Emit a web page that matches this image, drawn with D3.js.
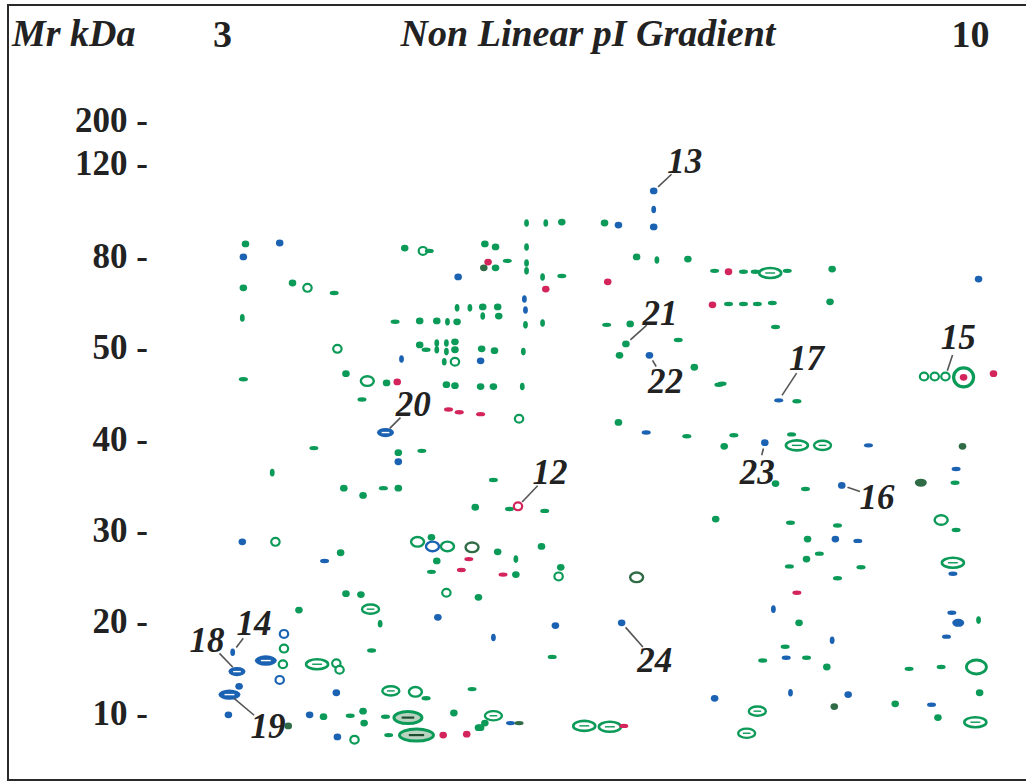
<!DOCTYPE html>
<html>
<head>
<meta charset="utf-8">
<script src="https://cdn.jsdelivr.net/npm/d3@7"></script>
<style>
  body { margin: 0; background: #fff; }
  svg { display: block; }
</style>
</head>
<body>
<svg id="chart"></svg>
<script>
// 2D gel map: spots as [pI, Mr (kDa), spot type]
const pIEnds = [3, 10];
const mrTicks = [200, 120, 80, 50, 40, 30, 20, 10];

const greenSpots = [
  [3.22,85.2,"dot"],[4.71,83.4,"dot"],[4.88,82.2,"ring"],[4.94,82.2,"dash"],
  [3.20,69.5,"dot"],[3.66,71.1,"dot"],[3.80,69.5,"ring"],[4.05,67.8,"dash"],
  [3.19,59.6,"vdash"],[5.20,62.9,"vdash"],[4.62,58.3,"dash"],[4.85,58.6,"dot"],[5.01,58.6,"dot"],[5.11,58.3,"vdash"],[5.20,58.3,"dot"],
  [4.08,49.8,"ring"],[4.85,50.7,"dot"],[4.91,49.7,"dash"],[5.01,51.3,"vdash"],[5.01,49.7,"vdash"],[5.10,51.3,"vdash"],[5.10,49.5,"vdash"],
  [5.18,51.7,"dot"],[5.18,49.7,"dot"],[5.08,48.4,"vdash"],[5.18,48.4,"ring"],
  [3.20,46.5,"dash"],[4.16,47.1,"dot"],[4.36,46.3,"ringw"],[4.54,46.1,"dot"],[5.10,45.9,"dot"],[5.18,45.8,"dot"],[4.31,44.3,"dash"],
  [5.85,94.2,"vdash"],[6.03,94.2,"vdash"],[6.18,94.6,"dot"],[6.58,94.2,"dot"],
  [5.46,85.2,"dot"],[5.56,83.9,"dot"],[5.85,83.9,"vdash"],[5.56,76.1,"dot"],[5.67,78.4,"dash"],[5.85,77.7,"vdash"],[5.85,75.1,"vdash"],
  [6.00,73.1,"vdash"],[6.18,73.4,"dash"],
  [6.88,79.7,"dot"],[7.07,78.7,"vdash"],[7.36,79.0,"dot"],[7.61,75.1,"dash"],
  [5.32,62.9,"vdash"],[5.44,63.2,"dot"],[5.58,63.2,"dot"],[5.44,60.2,"vdash"],[5.59,60.2,"dot"],[5.84,57.3,"vdash"],[6.00,57.9,"vdash"],
  [6.60,57.3,"dash"],[6.82,57.6,"dot"],
  [6.78,51.0,"dot"],[7.27,52.3,"dash"],[6.72,49.1,"dot"],[7.42,47.8,"dot"],
  [5.43,49.8,"dot"],[5.55,49.6,"dot"],[5.82,49.5,"vdash"],[5.42,45.7,"dot"],[5.54,45.7,"dot"],[5.81,45.7,"vdash"],
  [5.78,42.2,"ring"],[6.71,41.8,"dot"],[7.65,45.9,"dash"],
  [7.88,74.8,"dash"],[7.99,74.8,"dash"],[8.13,74.4,"wide"],[8.29,75.1,"dash"],[8.71,75.7,"dot"],
  [7.74,64.2,"dash"],[7.88,64.2,"dash"],[8.01,64.2,"dash"],[8.15,64.5,"dash"],[8.69,64.9,"dot"],[8.18,56.6,"dash"],
  [8.38,44.1,"dash"],[7.68,46.0,"dash"],
  [9.57,46.8,"ring"],[9.67,46.8,"ring"],[9.77,46.8,"ring"],[9.94,46.7,"big"],
  [7.79,40.4,"dash"],[7.70,39.2,"dot"],[8.33,40.5,"dash"],[8.38,39.3,"wide"],[8.62,39.3,"oval"],[7.35,40.3,"dash"],
  [9.86,35.2,"dash"],[8.18,35.1,"dot"],[8.46,34.5,"dash"],
  [7.62,31.2,"dot"],[8.32,30.8,"dash"],[8.76,30.5,"dash"],[9.73,31.1,"ringw"],[9.87,30.0,"dash"],
  [8.48,29.0,"dot"],[8.59,27.4,"dash"],[8.47,26.8,"dot"],[8.31,26.0,"dash"],[8.98,25.9,"dash"],[9.84,26.4,"wide"],[8.76,24.7,"dash"],
  [10.08,20.1,"vdash"],[8.40,19.8,"dot"],[8.27,17.2,"dash"],[8.06,15.7,"dash"],[8.47,16.0,"dash"],[8.66,15.0,"dot"],
  [8.01,10.2,"oval"],[7.91,7.8,"oval"],
  [9.43,14.8,"dash"],[9.73,15.0,"dash"],[10.06,15.0,"bigoval"],[10.09,12.2,"dot"],[9.30,11.0,"dot"],[9.70,9.5,"dot"],[10.05,9.0,"wide"],
  [4.65,38.5,"dot"],[3.86,39.0,"dash"],[4.87,38.7,"dash"],[3.47,36.3,"vdash"],[4.14,34.6,"dot"],[4.32,33.8,"dot"],[4.51,34.6,"dash"],[4.65,34.6,"dot"],
  [3.50,28.7,"ring"],[4.83,28.7,"ringw"],[4.96,29.2,"dot"],[5.11,28.2,"ringw"],[4.11,27.5,"dot"],[5.01,26.6,"dot"],[4.96,25.4,"dash"],
  [5.10,23.1,"ring"],[4.16,23.0,"dot"],[4.30,22.9,"dot"],
  [5.54,35.5,"dash"],[5.37,32.5,"dot"],[5.69,32.3,"dash"],[6.02,32.1,"dash"],
  [5.58,27.6,"dot"],[5.75,26.8,"vdash"],[5.99,28.2,"dot"],[5.75,25.1,"dot"],[6.17,25.9,"dot"],[6.15,24.9,"ring"],[5.40,22.6,"dot"],
  [3.72,21.2,"dot"],[4.39,21.3,"oval"],[4.48,19.7,"vdash"],[4.40,16.8,"dash"],
  [3.58,17.0,"ring"],[3.57,15.3,"ring"],[3.89,15.3,"wide"],[4.07,15.4,"ring"],[4.10,14.7,"ring"],
  [3.95,9.6,"dot"],[4.20,9.7,"dash"],[4.32,10.2,"dot"],[4.33,8.9,"dot"],[4.24,7.1,"ring"],
  [4.58,12.4,"oval"],[4.81,12.3,"ringw"],[4.91,11.6,"dash"],[4.53,9.6,"dash"],[4.74,9.5,"long"],[4.56,7.6,"dash"],[4.82,7.6,"xlong"],
  [5.17,10.0,"dot"],[5.34,12.6,"dash"],[5.40,8.4,"dot"],[6.09,16.1,"dash"],
  [5.54,9.7,"oval"],[5.46,8.9,"dot"],[5.42,8.4,"dot"],[6.39,8.6,"wide"],[6.63,8.5,"wide"]
];

const blueSpots = [
  [7.04,108,"dot"],[7.04,100,"vdash"],[7.04,92.5,"dot"],[6.71,93.3,"dot"],
  [3.54,85.6,"dot"],[3.20,79.7,"dot"],[5.21,73.1,"dot"],[5.83,65.8,"vdash"],[5.84,62.2,"vdash"],
  [4.68,48.7,"vdash"],[5.42,48.5,"dot"],[7.00,49.1,"dot"],[10.08,72.4,"dot"],[8.21,44.2,"dash"],
  [4.53,40.7,"lips"],[4.65,37.5,"dot"],[6.97,40.7,"dash"],[8.08,39.6,"dot"],[9.05,39.3,"dash"],[9.87,36.7,"dash"],
  [8.80,34.9,"dot"],[8.74,29.0,"dot"],[8.95,28.8,"dash"],[9.84,25.2,"dash"],[8.16,21.3,"vdash"],[9.83,20.9,"dash"],
  [9.89,19.8,"blob"],[9.78,18.3,"dash"],[8.71,17.9,"vdash"],[8.28,16.0,"dash"],[8.32,12.2,"vdash"],[8.86,12.0,"dot"],[9.64,10.9,"dash"],
  [3.19,28.7,"dot"],[3.96,26.6,"dash"],[4.97,28.2,"ringw"],[5.02,20.4,"dot"],
  [3.58,18.6,"ring"],[3.54,13.6,"ring"],[3.10,16.6,"vdash"],[3.41,15.7,"lipsw"],[3.14,14.5,"lips"],[3.16,12.9,"dot"],
  [3.07,12.0,"lipsw"],[3.06,9.8,"dot"],[3.82,9.8,"dot"],[4.07,12.2,"dot"],[4.08,7.4,"dot"],
  [6.12,19.5,"dot"],[5.54,18.2,"vdash"],[6.74,19.8,"dot"],[7.61,11.6,"dot"],[5.70,8.9,"dash"]
];

const redSpots = [
  [5.49,78.0,"dot"],[6.03,69.1,"dot"],[6.61,71.5,"dot"],[7.59,63.9,"dot"],[7.74,74.8,"dot"],
  [4.64,46.2,"dot"],[5.12,43.2,"dash"],[5.22,42.9,"dash"],[5.42,42.7,"dash"],[10.22,47.1,"dot"],[9.94,46.7,"dot"],
  [5.77,32.6,"ring"],[5.31,26.8,"dash"],[5.24,25.6,"dash"],[5.63,25.1,"dash"],[8.38,23.1,"dash"],
  [5.07,7.6,"dot"],[5.29,7.7,"dot"],[6.76,8.6,"dash"]
];

const darkSpots = [
  [5.45,76.1,"dot"],[9.93,39.2,"dot"],[9.54,35.2,"blob"],[8.73,10.7,"dot"],[3.62,8.6,"dot"],
  [5.78,8.9,"dash"],[6.88,24.8,"ringw"],[5.34,28.1,"ringw"]
];

// numbered spots: [label, spot pI, spot Mr, label pI, label Mr]
const spotLabels = [
  ["13",7.04,108,7.33,121.9],["21",6.78,51.0,7.10,61.2],["22",7.00,49.1,7.15,46.2],
  ["20",4.53,40.7,4.79,43.7],["12",5.77,32.6,6.07,36.3],["17",8.21,44.2,8.47,48.8],
  ["15",9.77,46.8,9.89,53.0],["23",8.08,39.6,8.01,36.3],["16",8.80,34.9,9.13,33.6],
  ["14",3.10,16.6,3.30,19.7],["18",3.14,14.5,2.86,17.9],["19",3.07,12.0,3.43,8.5],
  ["24",6.74,19.8,7.05,15.7]
];

const colors = { green: "#0b9a57", blue: "#1b62b3", red: "#d3245b", dark: "#2f6b45" };

const shapes = {
  dot:     { rx: 3.8, ry: 3.4, fill: true },
  dash:    { rx: 4.5, ry: 2.2, fill: true },
  vdash:   { rx: 2.4, ry: 3.8, fill: true },
  blob:    { rx: 6, ry: 4, fill: true },
  lips:    { rx: 8.5, ry: 4.6, fill: true, lip: true },
  lipsw:   { rx: 11, ry: 5.2, fill: true, lip: true },
  ring:    { rx: 4.2, ry: 3.9, sw: 2.2 },
  ringw:   { rx: 6.5, ry: 4.8, sw: 2.4 },
  oval:    { rx: 8.5, ry: 4.6, sw: 2.4, lip: true },
  wide:    { rx: 11, ry: 5, sw: 2.6, lip: true },
  bigoval: { rx: 10, ry: 7, sw: 2.8 },
  long:    { rx: 14, ry: 6, sw: 3, lip: true, tint: true },
  xlong:   { rx: 17, ry: 6, sw: 3, lip: true, tint: true },
  big:     { rx: 10, ry: 9.5, sw: 3.2 }
};

const W = 1026, H = 784;
const svg = d3.select("#chart").attr("width", W).attr("height", H);

const x = d3.scaleLinear().domain(pIEnds).range([222, 970]);
// the Mr axis of the gel is not linear: each marker sits at its own band
const y = d3.scaleLinear()
  .domain([10, 20, 30, 40, 50, 80, 120, 200])
  .range([713, 621, 530, 439, 347, 256, 163, 120]);

// frame
svg.append("path")
  .attr("d", `M${W},5 H8 V780 H${W}`)
  .attr("fill", "none")
  .attr("stroke", "#2a2a2a")
  .attr("stroke-width", 2);

const serif = "'Liberation Serif', 'Times New Roman', serif";

svg.append("text")
  .attr("x", 12).attr("y", 46)
  .attr("font-family", serif).attr("font-size", 38)
  .attr("font-weight", "bold").attr("font-style", "italic")
  .attr("fill", "#222")
  .text("Mr kDa");

svg.append("text")
  .attr("x", 588).attr("y", 46)
  .attr("text-anchor", "middle")
  .attr("font-family", serif).attr("font-size", 38)
  .attr("font-weight", "bold").attr("font-style", "italic")
  .attr("fill", "#222")
  .text("Non Linear pI Gradient");

const xAxis = svg.append("g")
  .attr("transform", "translate(0,47)")
  .call(d3.axisTop(x).tickValues(pIEnds).tickFormat(d3.format("d")).tickSize(0).tickPadding(0));
xAxis.select(".domain").remove();
xAxis.selectAll("text")
  .attr("font-family", serif).attr("font-size", 38)
  .attr("font-weight", "bold").attr("fill", "#222");

const yAxis = svg.append("g")
  .attr("transform", "translate(148,0)")
  .call(d3.axisLeft(y).tickValues(mrTicks).tickFormat((d) => d + " -").tickSize(0).tickPadding(0));
yAxis.select(".domain").remove();
yAxis.selectAll("text")
  .attr("font-family", serif).attr("font-size", 35)
  .attr("font-weight", "bold").attr("fill", "#222");

const spotLayer = svg.append("g");

function drawSpots(data, color) {
  const g = spotLayer.append("g");
  data.forEach((d) => {
    const s = shapes[d[2]];
    const cx = x(d[0]), cy = y(d[1]);
    if (s.fill) {
      g.append("ellipse")
        .attr("cx", cx).attr("cy", cy)
        .attr("rx", s.rx).attr("ry", s.ry)
        .attr("fill", color);
    } else {
      g.append("ellipse")
        .attr("cx", cx).attr("cy", cy)
        .attr("rx", s.rx).attr("ry", s.ry)
        .attr("fill", s.tint ? "#b9d3c1" : "#fff")
        .attr("stroke", color)
        .attr("stroke-width", s.sw);
    }
    if (s.lip) {
      g.append("line")
        .attr("x1", cx - s.rx * 0.45).attr("x2", cx + s.rx * 0.45)
        .attr("y1", cy).attr("y2", cy)
        .attr("stroke", s.fill ? "#fff" : s.tint ? "#1d4d2e" : color)
        .attr("stroke-width", s.tint ? 2.2 : 1.4);
    }
  });
}

drawSpots(greenSpots, colors.green);
drawSpots(blueSpots, colors.blue);
drawSpots(darkSpots, colors.dark);
drawSpots(redSpots, colors.red);

// numbered spot labels with leader lines
const labelLayer = svg.append("g");
spotLabels.forEach(([t, sp, sm, lp, lm]) => {
  const x0 = x(sp), y0 = y(sm), x1 = x(lp), y1 = y(lm);
  const dist = Math.hypot(x1 - x0, y1 - y0);
  const ux = (x1 - x0) / dist, uy = (y1 - y0) / dist;
  labelLayer.append("line")
    .attr("x1", x0 + ux * 6).attr("y1", y0 + uy * 6)
    .attr("x2", x0 + ux * (dist - 18)).attr("y2", y0 + uy * (dist - 18))
    .attr("stroke", "#555")
    .attr("stroke-width", 1.6);
  labelLayer.append("text")
    .attr("x", x1).attr("y", y1)
    .attr("text-anchor", "middle")
    .attr("dominant-baseline", "central")
    .attr("font-family", serif).attr("font-size", 35)
    .attr("font-weight", "bold").attr("font-style", "italic")
    .attr("fill", "#222")
    .text(t);
});
</script>
</body>
</html>
